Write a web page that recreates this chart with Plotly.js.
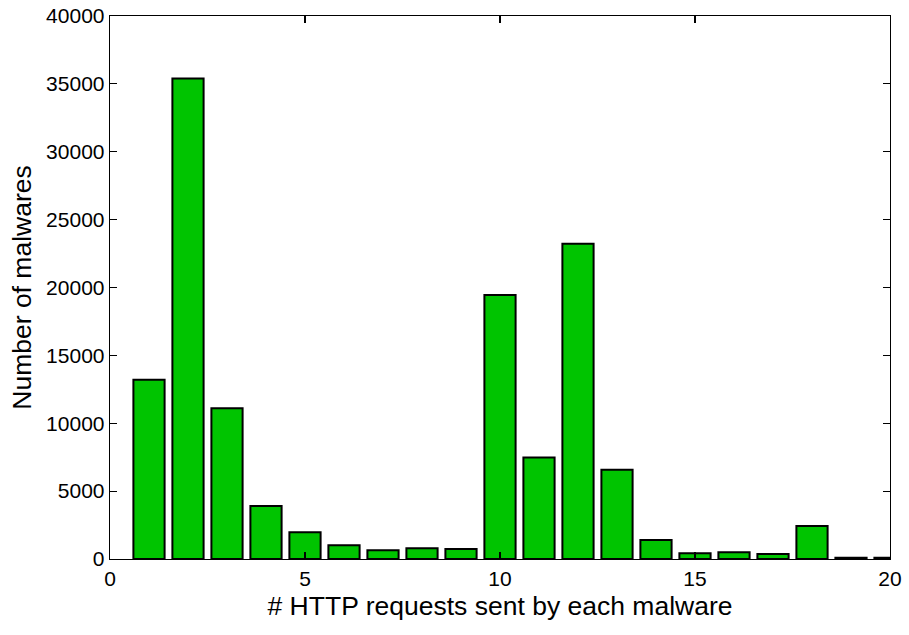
<!DOCTYPE html>
<html>
<head>
<meta charset="utf-8">
<script src="https://cdn.plot.ly/plotly-3.0.1.min.js"></script>
<style>html,body{margin:0;padding:0;background:#fff;}#chart{width:909px;height:635px;}</style>
</head>
<body>
<div id="chart"></div>
<script>
const requests = [1,2,3,4,5,6,7,8,9,10,11,12,13,14,15,16,17,18,19,20];
const malwareCounts = [13200,35400,11100,3900,1970,1020,640,790,740,19440,7470,23220,6580,1400,420,490,370,2430,100,100];
const xTicks = [0,5,10,15,20];
const yTicks = [0,5000,10000,15000,20000,25000,30000,35000,40000];

const trace = {
  type: 'bar',
  x: requests,
  y: malwareCounts,
  width: 0.8,
  marker: {color: '#00c400', line: {color: '#000', width: 2}},
  hoverinfo: 'x+y'
};
const axisCommon = {
  showline: true, linecolor: '#000', linewidth: 1.3, mirror: 'ticks',
  ticks: 'inside', ticklen: 7, tickwidth: 1.2, tickcolor: '#000',
  showgrid: false, zeroline: false,
  tickfont: {family: 'Liberation Sans, Arial, sans-serif', size: 21, color: '#000'}
};
const layout = {
  width: 909, height: 635,
  margin: {l: 110, r: 19, t: 16, b: 76},
  paper_bgcolor: '#fff', plot_bgcolor: '#fff',
  showlegend: false,
  xaxis: Object.assign({}, axisCommon, {
    range: [0, 20], tickmode: 'array', tickvals: xTicks, ticktext: xTicks.map(String),
    title: {text: '# HTTP requests sent by each malware', standoff: 8,
      font: {family: 'Liberation Sans, Arial, sans-serif', size: 26.5, color: '#000'}}
  }),
  yaxis: Object.assign({}, axisCommon, {
    range: [0, 40000], tickmode: 'array', tickvals: yTicks, ticktext: yTicks.map(String),
    title: {text: 'Number of malwares', standoff: 6,
      font: {family: 'Liberation Sans, Arial, sans-serif', size: 26.5, color: '#000'}}
  })
};
Plotly.newPlot('chart', [trace], layout, {displayModeBar: false, staticPlot: true});
</script>
</body>
</html>
